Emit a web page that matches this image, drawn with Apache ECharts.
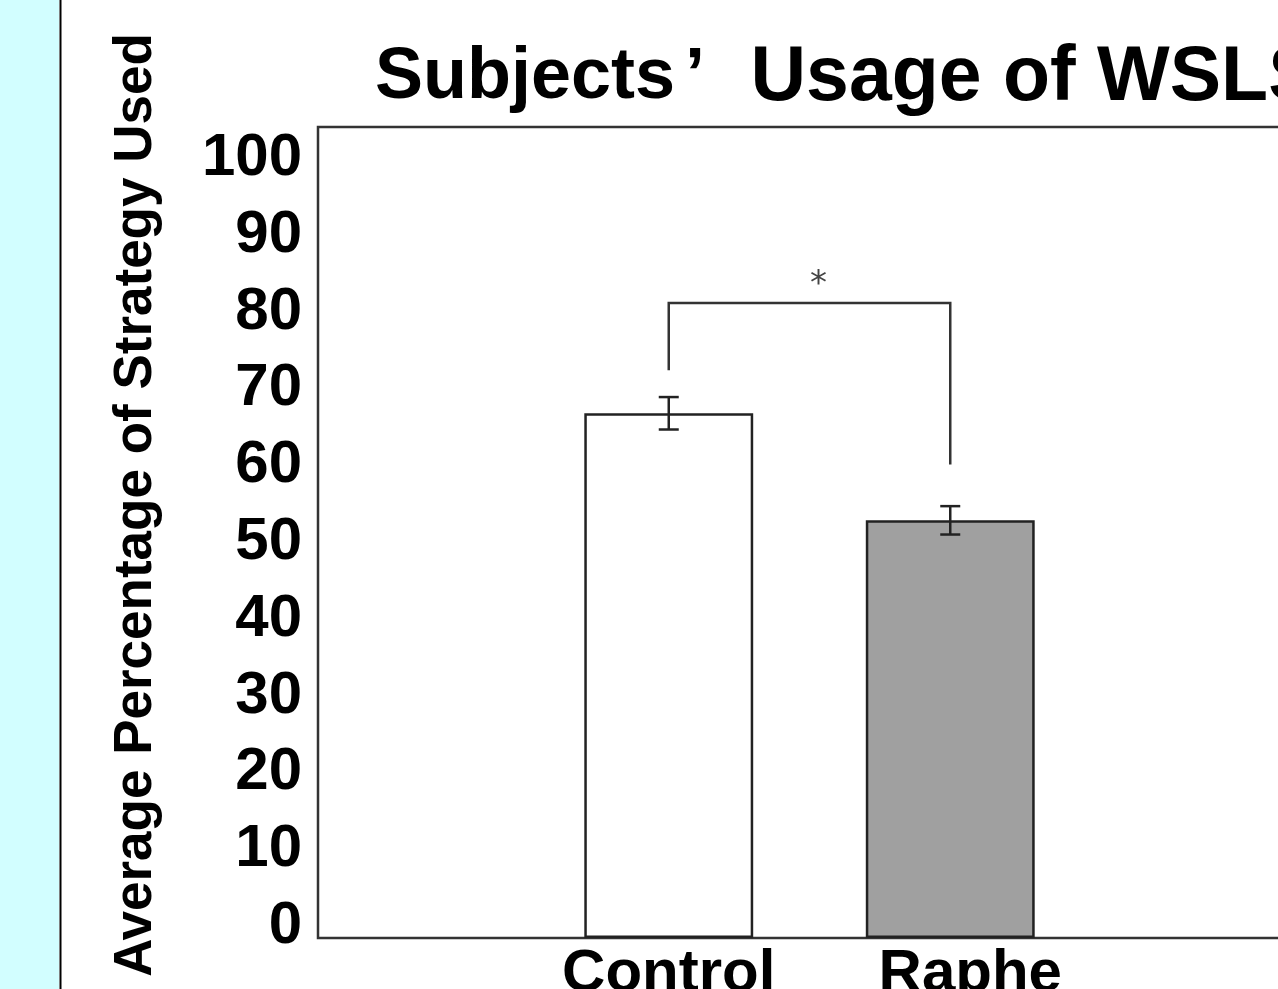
<!DOCTYPE html>
<html>
<head>
<meta charset="utf-8">
<script src="https://cdn.jsdelivr.net/npm/echarts@6/dist/echarts.min.js"></script>
<style>
html,body{margin:0;padding:0;background:#fff;}
#chart{width:1278px;height:989px;}
</style>
</head>
<body>
<div id="chart"></div>
<script>
// ---- data ----
const categories = ['Control', 'Raphe'];
const means = [64.7, 51.5];
const errors = [2.0, 1.75];
const barColors = ['#ffffff', '#a0a0a0'];
const bracketLegs = [70.0, 58.4];   // bottom ends of the bracket legs
const bracketTop = 78.3;            // height of the bracket bar
const starLevel = 81.6;
const sigLabel = '*';
const yMin = 0, yMax = 100, yStep = 10;
const titleText = ['Subjects', '’', ' Usage of WSLS'];
const yTitle = 'Average Percentage of Strategy Used';

const FONT = '"Liberation Sans", Arial, Helvetica, sans-serif';
const chart = echarts.init(document.getElementById('chart'), null, {renderer: 'canvas'});

const errData = categories.map((c, i) => [i, means[i] - errors[i], means[i] + errors[i]]);

const option = {
  backgroundColor: '#ffffff',
  animation: false,
  title: {
    text: '{a|' + titleText[0] + '}{q|' + titleText[1] + '}{b|' + titleText[2] + '}',
    left: 375, top: 40, padding: 0,
    textStyle: {
      rich: {
        a: {fontFamily: FONT, fontWeight: 'bold', fontSize: 72, color: '#000'},
        q: {fontFamily: FONT, fontWeight: 'bold', fontSize: 72, color: '#000', width: 44, align: 'left', padding: [0, 0, 0, 10]},
        b: {fontFamily: FONT, fontWeight: 'bold', fontSize: 77, color: '#000'}
      }
    }
  },
  graphic: [
    {type: 'rect', shape: {x: 0, y: 0, width: 59, height: 989}, style: {fill: '#d2feff'}, z: -1},
    {type: 'line', shape: {x1: 60.5, y1: 0, x2: 60.5, y2: 989}, style: {stroke: '#000', lineWidth: 2}},
    {type: 'text', x: 136, y: 505, rotation: Math.PI / 2,
     style: {text: yTitle, fontFamily: FONT, fontWeight: 'bold', fontSize: 53, fill: '#000',
             textAlign: 'center', textVerticalAlign: 'middle'}}
  ],
  grid: [
    {left: 318, top: 127, width: 1200, height: 811, outerBoundsMode: 'none', containLabel: false,
     show: true, borderColor: '#333', borderWidth: 2.5, backgroundColor: 'transparent'},
    {left: 318, top: 158.5, width: 1, height: 768, outerBoundsMode: 'none', containLabel: false},
    {left: 528, top: 127, width: 563, height: 811, outerBoundsMode: 'none', containLabel: false}
  ],
  xAxis: [
    {gridIndex: 0, type: 'value', show: false},
    {gridIndex: 1, type: 'value', show: false},
    {gridIndex: 2, type: 'category', data: categories.map((c, i) => i === 1 ? {value: c, textStyle: {padding: [0, 0, 0, 40]}} : c),
     axisLine: {show: false}, axisTick: {show: false},
     axisLabel: {fontFamily: FONT, fontWeight: 'bold', fontSize: 60, color: '#000', margin: 6}}
  ],
  yAxis: [
    {gridIndex: 0, type: 'value', min: yMin, max: yMax, show: false},
    {gridIndex: 1, type: 'value', min: yMin, max: yMax, interval: yStep,
     axisLine: {show: false}, axisTick: {show: false}, splitLine: {show: false},
     axisLabel: {fontFamily: FONT, fontWeight: 'bold', fontSize: 60, color: '#000', margin: 16}},
    {gridIndex: 2, type: 'value', min: yMin, max: yMax, show: false}
  ],
  series: [
    {
      type: 'bar', xAxisIndex: 2, yAxisIndex: 2, barWidth: '60%',
      data: means.map((v, i) => ({value: v, itemStyle: {color: barColors[i], borderColor: '#222', borderWidth: 2.5}})),
      z: 2
    },
    {
      type: 'custom', xAxisIndex: 2, yAxisIndex: 2, z: 3,
      data: errData,
      renderItem: function (params, api) {
        const x = api.value(0);
        const lo = api.coord([x, api.value(1)]);
        const hi = api.coord([x, api.value(2)]);
        const w = 10;
        const st = {stroke: '#222', lineWidth: 2.5};
        return {type: 'group', children: [
          {type: 'line', shape: {x1: hi[0], y1: hi[1], x2: lo[0], y2: lo[1]}, style: st},
          {type: 'line', shape: {x1: hi[0] - w, y1: hi[1], x2: hi[0] + w, y2: hi[1]}, style: st},
          {type: 'line', shape: {x1: lo[0] - w, y1: lo[1], x2: lo[0] + w, y2: lo[1]}, style: st}
        ]};
      }
    },
    {
      type: 'custom', xAxisIndex: 2, yAxisIndex: 2, z: 3,
      data: [[0, 1, bracketLegs[0], bracketLegs[1], bracketTop, starLevel]],
      renderItem: function (params, api) {
        const a = api.coord([api.value(0), api.value(2)]);
        const b = api.coord([api.value(0), api.value(4)]);
        const c = api.coord([api.value(1), api.value(4)]);
        const d = api.coord([api.value(1), api.value(3)]);
        const sy = api.coord([api.value(0), api.value(5)])[1];
        const sx = (b[0] + c[0]) / 2;
        return {type: 'group', children: [
          {type: 'polyline', shape: {points: [a, b, c, d]}, style: {stroke: '#333', lineWidth: 2.5, fill: null}},
          {type: 'text', x: sx + 9, y: sy + 9,
           style: {text: sigLabel, fontFamily: '"DejaVu Sans"', fontSize: 34, fill: '#444', textAlign: 'center', textVerticalAlign: 'middle'}}
        ]};
      }
    }
  ]
};
chart.setOption(option);
</script>
</body>
</html>
